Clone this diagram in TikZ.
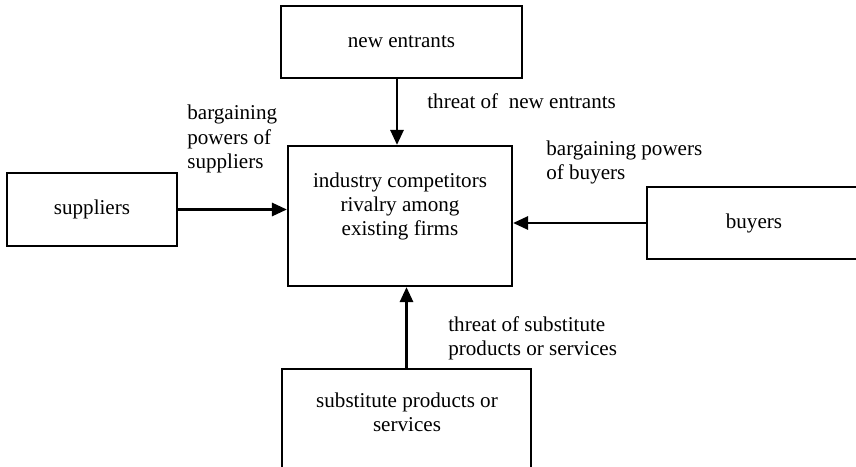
\documentclass[tikz,border=0pt]{standalone}
\usepackage{fontspec}
\setmainfont{Liberation Serif}
\usetikzlibrary{arrows.meta}
\tikzset{
    forcebox/.style={draw,line width=1.2pt,inner sep=0pt,align=center,font=\fontsize{12}{13.7}\selectfont},
    boxtext/.style={inner sep=0pt,align=center,font=\fontsize{12}{13.7}\selectfont},
    blurb/.style={inner sep=0pt,align=left,anchor=west,font=\fontsize{12}{13.7}\selectfont},
    force/.style={line width=1.6pt,-{Triangle[length=3mm,width=2.6mm]}}
}

\begin{document}
\begin{tikzpicture}
    \useasboundingbox (0,0) rectangle (17.12,9.32);
    \clip (0,0) rectangle (17.12,9.32);

    % the five forces
    \node[forcebox,minimum width=4.82cm,minimum height=1.44cm] (entrants) at (8.03,8.48) {new entrants};
    \node[forcebox,minimum width=4.48cm,minimum height=2.8cm] (rivalry) at (8,5) {};
    \node[boxtext] (rivalrytext) at (8,5.19) {industry competitors\\rivalry among\\existing firms};
    \node[forcebox,minimum width=3.4cm,minimum height=1.46cm] (suppliers) at (1.84,5.13) {suppliers};
    \node[forcebox,minimum width=4.28cm,minimum height=1.44cm] (buyers) at (15.08,4.86) {buyers};
    \node[forcebox,minimum width=4.98cm,minimum height=2.22cm] (substitutes) at (8.13,0.83) {};
    \node[boxtext] (substitutestext) at (8.14,1.08) {substitute products or\\services};

    % arrows into the middle box
    \draw[force] ([xshift=-0.9mm]entrants.south) -- ([xshift=-0.9mm]entrants.south |- rivalry.north);
    \draw[force] (suppliers.east) -- (suppliers.east -| rivalry.west);
    \draw[force] (buyers.west) -- (buyers.west -| rivalry.east);
    \draw[force] (substitutes.north) -- (substitutes.north |- rivalry.south);

    \node[blurb] (entrantsnote) at (8.54,7.30) {threat of\ \ new entrants};
    \node[blurb] (suppliersnote) at (3.74,6.54) {bargaining\\powers of\\suppliers};
    \node[blurb] (buyersnote) at (10.92,6.08) {bargaining powers\\of buyers};
    \node[blurb] (substitutesnote) at (8.96,2.55) {threat of substitute\\products or services};
\end{tikzpicture}
\end{document}
